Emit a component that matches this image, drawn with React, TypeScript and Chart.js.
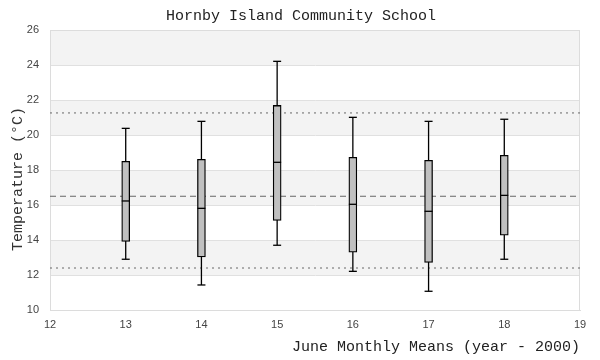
import React, { useEffect, useRef } from "react";
import { Chart, registerables } from "chart.js";

Chart.register(...registerables);

const years = [13, 14, 15, 16, 17, 18];
const whiskerLow = [12.9, 11.43, 13.7, 12.21, 11.07, 12.9];
const q1 = [13.92, 13.03, 15.12, 13.3, 12.72, 14.27];
const median = [16.23, 15.81, 18.44, 16.04, 15.64, 16.55];
const q3 = [18.5, 18.61, 21.69, 18.72, 18.55, 18.84];
const whiskerHigh = [20.38, 20.78, 24.21, 21.01, 20.78, 20.9];
const overallMean = 16.5;
const upperLimit = 21.26;
const lowerLimit = 12.4;
const xRange = [12, 19];
const yRange = [10, 26];
const bandStarts = [12, 16, 20, 24];

const TITLE = "Hornby Island Community School";
const X_TITLE = "June Monthly Means (year - 2000)";
const Y_TITLE = "Temperature (°C)";
const MONO = "'Liberation Mono', monospace";
const SANS = "'Liberation Sans', sans-serif";

const bandsPlugin = {
  id: "bands",
  beforeDraw(chart: any) {
    const { ctx, chartArea, scales } = chart;
    const y = scales.y;
    ctx.save();
    ctx.fillStyle = "#ffffff";
    ctx.fillRect(chartArea.left, chartArea.top, chartArea.right - chartArea.left, chartArea.bottom - chartArea.top);
    ctx.fillStyle = "#f3f3f3";
    bandStarts.forEach((b) => {
      const top = y.getPixelForValue(b + 2);
      const bot = y.getPixelForValue(b);
      ctx.fillRect(chartArea.left, top, chartArea.right - chartArea.left, bot - top);
    });
    ctx.restore();
  },
  beforeDatasetsDraw(chart: any) {
    const { ctx, chartArea } = chart;
    ctx.save();
    ctx.strokeStyle = "#dcdcdc";
    ctx.lineWidth = 1;
    ctx.strokeRect(chartArea.left + 0.5, chartArea.top + 0.5, chartArea.right - chartArea.left - 1, chartArea.bottom - chartArea.top);
    ctx.restore();
  },
  afterDraw(chart: any) {
    const { ctx } = chart;
    ctx.save();
    ctx.textAlign = "center";
    ctx.textBaseline = "middle";
    ctx.font = `15px ${MONO}`;
    ctx.fillStyle = "#222";
    ctx.fillText(TITLE, 301, 16);
    ctx.translate(18, 179);
    ctx.rotate(-Math.PI / 2);
    ctx.fillStyle = "#333";
    ctx.fillText(Y_TITLE, 0, 0);
    ctx.restore();
  },
};

export default function App() {
  const ref = useRef<HTMLCanvasElement>(null);
  useEffect(() => {
    if (!ref.current) return;
    const whiskerData: any[] = [];
    years.forEach((x, i) => {
      whiskerData.push({ x, y: whiskerLow[i] });
      whiskerData.push({ x, y: whiskerHigh[i] });
      whiskerData.push({ x, y: null });
    });
    const capData: any[] = [];
    years.forEach((x, i) => {
      capData.push({ x, y: whiskerLow[i] });
      capData.push({ x, y: whiskerHigh[i] });
    });
    const refLine = (v: number, dash: number[], label: string) => ({
      type: "line",
      label,
      data: [
        { x: xRange[0], y: v },
        { x: xRange[1], y: v },
      ],
      borderColor: "#666",
      borderWidth: 1,
      borderDash: dash,
      pointRadius: 0,
      order: 5,
    });
    const chart = new Chart(ref.current, {
      type: "bar",
      data: {
        datasets: [
          refLine(upperLimit, [2, 4], "upper"),
          refLine(overallMean, [6, 4], "mean"),
          refLine(lowerLimit, [2, 4], "lower"),
          {
            type: "line",
            label: "whiskers",
            data: whiskerData,
            borderColor: "#000",
            borderWidth: 1.3,
            pointRadius: 0,
            spanGaps: false,
            order: 3,
          } as any,
          {
            type: "bar",
            label: "box",
            data: years.map((x, i) => ({ x, y: [q1[i], q3[i]] })),
            backgroundColor: "#c0c0c0",
            borderColor: "#000",
            borderWidth: 1.3,
            borderSkipped: false,
            barThickness: 8,
            order: 2,
          } as any,
          {
            type: "line",
            label: "caps",
            data: capData,
            showLine: false,
            pointStyle: "line",
            pointRadius: 4,
            borderColor: "#000",
            borderWidth: 1.3,
            order: 1,
          } as any,
          {
            type: "line",
            label: "median",
            data: years.map((x, i) => ({ x, y: median[i] })),
            showLine: false,
            pointStyle: "line",
            pointRadius: 4,
            borderColor: "#000",
            borderWidth: 1.3,
            order: 0,
          } as any,
        ] as any,
      },
      options: {
        responsive: false,
        animation: false,
        devicePixelRatio: 1,
        layout: { padding: { left: 0, right: 20, top: 30, bottom: 0 } },
        plugins: {
          legend: { display: false },
          tooltip: { enabled: false },
          title: { display: false },
        },
        scales: {
          x: {
            type: "linear",
            min: xRange[0],
            max: xRange[1],
            offset: false,
            grid: { display: false, drawTicks: false },
            border: { display: true, color: "#dcdcdc" },
            ticks: {
              stepSize: 1,
              color: "#444",
              font: { family: SANS, size: 11 },
              padding: 8,
              maxRotation: 0,
            },
            title: {
              display: true,
              text: X_TITLE,
              align: "end",
              color: "#222",
              font: { family: MONO, size: 15 },
              padding: { top: 0, bottom: 4 },
            },
            afterFit: (s: any) => {
              s.height = 50;
            },
          } as any,
          y: {
            type: "linear",
            min: yRange[0],
            max: yRange[1],
            grid: { color: "#e0e0e0", drawTicks: false },
            border: { display: true, color: "#dcdcdc" },
            ticks: {
              stepSize: 2,
              color: "#444",
              font: { family: SANS, size: 11 },
              padding: 11,
            },
            afterFit: (s: any) => {
              s.width = 50;
            },
          } as any,
        },
      },
      plugins: [bandsPlugin],
    });
    return () => chart.destroy();
  }, []);
  return (
    <div style={{ position: "absolute", left: 0, top: 0, width: 600, height: 360, background: "#fff" }}>
      <canvas ref={ref} width={600} height={360} />
    </div>
  );
}
